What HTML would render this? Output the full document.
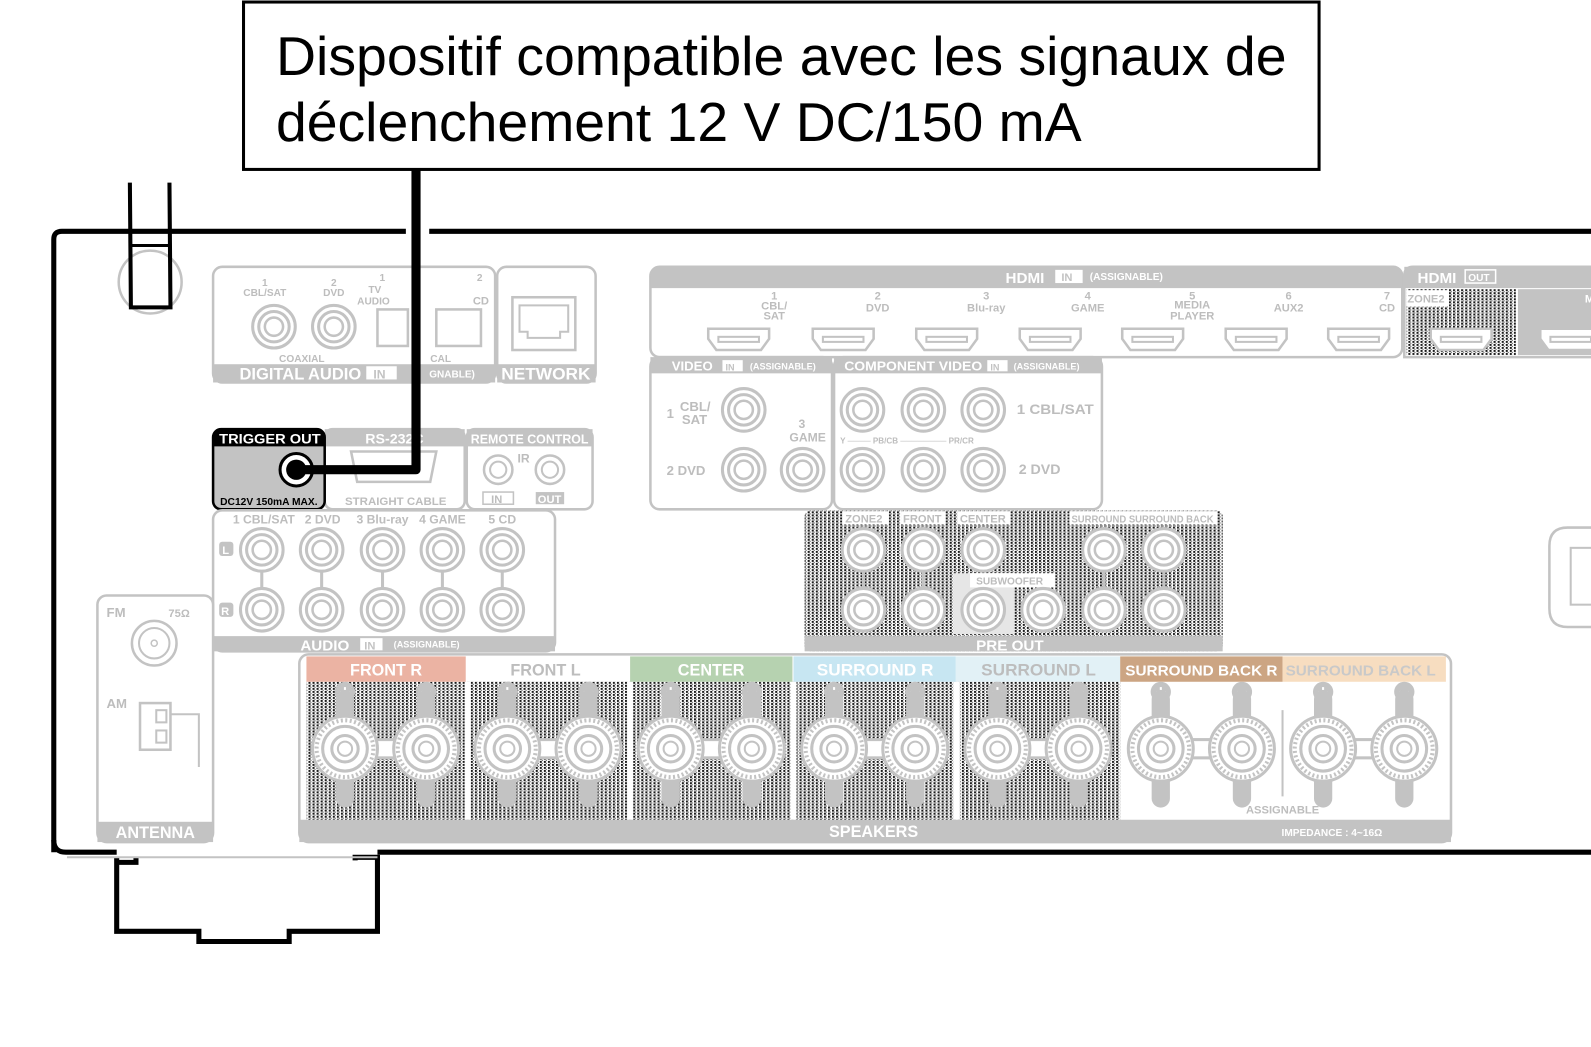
<!DOCTYPE html>
<html><head><meta charset="utf-8"><style>
html,body{margin:0;padding:0;background:#fff;overflow:hidden;}
svg{display:block;font-family:"Liberation Sans",sans-serif;}
.g{fill:#bdbdbd;font-weight:bold;}
.w{fill:#fff;font-weight:bold;}
</style></head><body>
<svg width="1591" height="1047" viewBox="0 0 1568 1032" preserveAspectRatio="none" xmlns="http://www.w3.org/2000/svg">
<defs>
<pattern id="dz" width="4" height="3" patternUnits="userSpaceOnUse">
<rect width="4" height="3" fill="#fff"/><rect x="0" y="0" width="2" height="2" fill="#1a1a1a"/><rect x="2" y="2" width="1" height="1" fill="#555"/>
</pattern>
<g id="rca"><circle r="21" fill="#fff" stroke="#c3c3c3" stroke-width="3"/><circle r="15" fill="none" stroke="#c3c3c3" stroke-width="3"/><circle r="9" fill="none" stroke="#c3c3c3" stroke-width="2.5"/></g>
<g id="hdmi"><path d="M-30,-11 h60 v10 l-8,11 h-44 l-8,-11z" fill="#fff" stroke="#c3c3c3" stroke-width="2.5"/><rect x="-20" y="-3" width="40" height="5" fill="none" stroke="#c3c3c3" stroke-width="2"/></g>
<g id="spk"><rect x="-9" y="-58" width="18" height="116" rx="9" fill="#c3c3c3"/>
<circle r="32" fill="#fff" stroke="#c3c3c3" stroke-width="3"/><circle r="28" fill="none" stroke="#c3c3c3" stroke-width="4" stroke-dasharray="2 2.4"/><circle r="22" fill="none" stroke="#c3c3c3" stroke-width="3"/><circle r="13" fill="none" stroke="#c3c3c3" stroke-width="3"/><circle r="7" fill="none" stroke="#c3c3c3" stroke-width="2"/></g>
<g id="pair"><rect x="28" y="-9" width="24" height="18" fill="#fff" stroke="#c3c3c3" stroke-width="3"/>
<circle cx="0" cy="-56" r="10" fill="#c3c3c3"/><circle cx="80" cy="-56" r="10" fill="#c3c3c3"/>
<text x="0" y="-50" font-size="18" fill="#fff" text-anchor="middle" font-weight="bold">+</text><text x="80" y="-50" font-size="18" fill="#fff" text-anchor="middle" font-weight="bold">−</text>
<use href="#spk" x="0"/><use href="#spk" x="80"/></g>
</defs>

<rect x="240" y="2" width="1060" height="165" fill="#fff" stroke="#000" stroke-width="3"/>
<text x="272" y="74" font-size="54" textLength="996" lengthAdjust="spacingAndGlyphs">Dispositif compatible avec les signaux de</text>
<text x="272" y="139" font-size="54" textLength="794" lengthAdjust="spacingAndGlyphs">déclenchement 12 V DC/150 mA</text>

<path d="M53,840 V236 q0,-8 8,-8 H400 M423,228 H1591" fill="none" stroke="#000" stroke-width="5"/>
<path d="M53,828 q0,12 12,12 H115 M372,840 H1591" fill="none" stroke="#000" stroke-width="5"/>
<path d="M115,845 V918 H196 V928 H285 V918 H372 V845 H350 V848" fill="none" stroke="#000" stroke-width="5"/>
<path d="M115,850 H134 V845" fill="none" stroke="#000" stroke-width="5"/>
<line x1="66" y1="845" x2="372" y2="845" stroke="#c3c3c3" stroke-width="2"/>
<circle cx="148" cy="278" r="31" fill="none" stroke="#c3c3c3" stroke-width="2.5"/>
<path d="M128,180 L129,303 H168 L167,180" fill="none" stroke="#000" stroke-width="4"/>
<line x1="129" y1="242" x2="168" y2="242" stroke="#000" stroke-width="3"/>

<rect x="210" y="263" width="278" height="114" rx="9" fill="#fff" stroke="#c3c3c3" stroke-width="2.5"/>
<rect x="210" y="359" width="278" height="18" fill="#c3c3c3"/>
<text x="236" y="374" font-size="16" class="w" textLength="120" lengthAdjust="spacingAndGlyphs">DIGITAL AUDIO</text>
<rect x="361" y="361" width="30" height="13" fill="#fff"/><text x="368" y="373" font-size="12" fill="#c3c3c3" font-weight="bold">IN</text>
<text x="423" y="372" font-size="10" class="w" textLength="45" lengthAdjust="spacingAndGlyphs">GNABLE)</text>
<text x="261" y="282" font-size="10" class="g" text-anchor="middle">1</text><text x="261" y="292" font-size="10" class="g" text-anchor="middle">CBL/SAT</text>
<text x="329" y="282" font-size="10" class="g" text-anchor="middle">2</text><text x="329" y="292" font-size="10" class="g" text-anchor="middle">DVD</text>
<text x="374" y="277" font-size="10" class="g">1</text><text x="363" y="289" font-size="10" class="g">TV</text><text x="352" y="300" font-size="10" class="g">AUDIO</text>
<text x="470" y="277" font-size="10" class="g">2</text><text x="466" y="300" font-size="11" class="g">CD</text>
<text x="275" y="357" font-size="10" class="g">COAXIAL</text><text x="424" y="357" font-size="10" class="g">CAL</text>
<use href="#rca" x="270" y="322"/><use href="#rca" x="329" y="322"/>
<rect x="372" y="305" width="30" height="36" fill="#fff" stroke="#c3c3c3" stroke-width="2.5"/>
<rect x="430" y="305" width="44" height="36" fill="#fff" stroke="#c3c3c3" stroke-width="2.5"/>
<rect x="490" y="263" width="97" height="114" rx="9" fill="#fff" stroke="#c3c3c3" stroke-width="2.5"/>
<rect x="490" y="359" width="97" height="18" fill="#c3c3c3"/>
<text x="494" y="374" font-size="16" class="w" textLength="88" lengthAdjust="spacingAndGlyphs">NETWORK</text>
<rect x="505" y="293" width="62" height="52" fill="#fff" stroke="#c3c3c3" stroke-width="2.5"/>
<path d="M512,301 h48 v26 h-8 v6 h-32 v-6 h-8z" fill="none" stroke="#c3c3c3" stroke-width="2"/>

<rect x="320" y="423" width="138" height="79" rx="8" fill="#fff" stroke="#c3c3c3" stroke-width="2.5"/>
<rect x="320" y="423" width="138" height="17" fill="#c3c3c3"/>
<text x="360" y="437" font-size="14" class="w">RS-232C</text>
<path d="M346,445 h84 l-6,30 h-72z" fill="none" stroke="#c3c3c3" stroke-width="2.5"/>
<text x="340" y="498" font-size="11" class="g" textLength="100" lengthAdjust="spacingAndGlyphs">STRAIGHT CABLE</text>
<rect x="460" y="423" width="124" height="79" rx="8" fill="#fff" stroke="#c3c3c3" stroke-width="2.5"/>
<rect x="460" y="423" width="124" height="17" fill="#c3c3c3"/>
<text x="464" y="437" font-size="13" class="w" textLength="116" lengthAdjust="spacingAndGlyphs">REMOTE CONTROL</text>
<circle cx="491" cy="463" r="14" fill="none" stroke="#c3c3c3" stroke-width="2.5"/><circle cx="491" cy="463" r="8" fill="none" stroke="#c3c3c3" stroke-width="2"/>
<circle cx="542" cy="463" r="14" fill="none" stroke="#c3c3c3" stroke-width="2.5"/><circle cx="542" cy="463" r="8" fill="none" stroke="#c3c3c3" stroke-width="2"/>
<text x="510" y="456" font-size="12" class="g">IR</text>
<rect x="476" y="485" width="30" height="12" fill="none" stroke="#c3c3c3" stroke-width="1.5"/><text x="484" y="496" font-size="11" class="g">IN</text>
<rect x="528" y="485" width="28" height="12" fill="#c3c3c3"/><text x="530" y="496" font-size="11" class="w">OUT</text>

<rect x="210" y="423" width="110" height="79" rx="8" fill="#c3c3c3" stroke="#000" stroke-width="2.5"/>
<path d="M210,440 v-9 q0,-8 8,-8 h94 q8,0 8,8 v9z" fill="#000"/>
<text x="216" y="437" font-size="14" class="w" textLength="100" lengthAdjust="spacingAndGlyphs">TRIGGER OUT</text>
<text x="217" y="498" font-size="10" font-weight="bold" fill="#000" textLength="96" lengthAdjust="spacingAndGlyphs">DC12V 150mA MAX.</text>
<circle cx="292" cy="463" r="16" fill="#fff" stroke="#000" stroke-width="3"/><circle cx="292" cy="463" r="10" fill="#000"/>
<path d="M410,168 V463 H292" fill="none" stroke="#000" stroke-width="9" stroke-linejoin="round"/>

<rect x="210" y="503" width="337" height="139" rx="9" fill="#fff" stroke="#c3c3c3" stroke-width="2.5"/>
<rect x="210" y="627" width="337" height="15" fill="#c3c3c3"/>
<text x="296" y="641" font-size="15" class="w">AUDIO</text>
<rect x="355" y="629" width="22" height="12" fill="#fff"/><text x="359" y="640" font-size="11" fill="#c3c3c3" font-weight="bold">IN</text>
<text x="388" y="638" font-size="9" class="w">(ASSIGNABLE)</text>
<g font-size="12" class="g" text-anchor="middle"><text x="260" y="516">1 CBL/SAT</text><text x="318" y="516">2 DVD</text><text x="377" y="516">3 Blu-ray</text><text x="436" y="516">4 GAME</text><text x="495" y="516">5 CD</text></g>
<rect x="216" y="534" width="14" height="14" rx="3" fill="#c3c3c3"/><text x="219" y="546" font-size="11" class="w">L</text>
<rect x="216" y="594" width="14" height="14" rx="3" fill="#c3c3c3"/><text x="218" y="606" font-size="11" class="w">R</text>
<g stroke="#c3c3c3" stroke-width="3"><line x1="258" y1="560" x2="258" y2="580"/><line x1="317" y1="560" x2="317" y2="580"/><line x1="377" y1="560" x2="377" y2="580"/><line x1="436" y1="560" x2="436" y2="580"/><line x1="495" y1="560" x2="495" y2="580"/></g>
<use href="#rca" x="258" y="542"/><use href="#rca" x="317" y="542"/><use href="#rca" x="377" y="542"/><use href="#rca" x="436" y="542"/><use href="#rca" x="495" y="542"/>
<use href="#rca" x="258" y="601"/><use href="#rca" x="317" y="601"/><use href="#rca" x="377" y="601"/><use href="#rca" x="436" y="601"/><use href="#rca" x="495" y="601"/>

<rect x="96" y="587" width="114" height="243" rx="9" fill="#fff" stroke="#c3c3c3" stroke-width="2.5"/>
<rect x="96" y="810" width="114" height="20" fill="#c3c3c3"/>
<text x="114" y="826" font-size="16" class="w">ANTENNA</text>
<text x="105" y="608" font-size="13" class="g">FM</text><text x="166" y="608" font-size="11" class="g">75Ω</text>
<circle cx="152" cy="634" r="22" fill="none" stroke="#c3c3c3" stroke-width="2.5"/><circle cx="152" cy="634" r="15" fill="none" stroke="#c3c3c3" stroke-width="2"/><circle cx="152" cy="634" r="3" fill="none" stroke="#c3c3c3" stroke-width="1.5"/>
<text x="105" y="698" font-size="13" class="g">AM</text>
<rect x="138" y="693" width="30" height="46" fill="none" stroke="#c3c3c3" stroke-width="2.5"/>
<rect x="154" y="700" width="10" height="12" fill="none" stroke="#c3c3c3" stroke-width="2"/><rect x="154" y="720" width="10" height="12" fill="none" stroke="#c3c3c3" stroke-width="2"/>
<path d="M168,704 h28 v52" fill="none" stroke="#c3c3c3" stroke-width="2"/>

<rect x="641" y="263" width="741" height="89" rx="9" fill="#fff" stroke="#c3c3c3" stroke-width="2.5"/>
<path d="M641,284 v-12 q0,-9 9,-9 h723 q9,0 9,9 v12z" fill="#c3c3c3"/>
<text x="991" y="279" font-size="15" class="w">HDMI</text>
<rect x="1040" y="266" width="27" height="13" fill="#fff"/><text x="1046" y="277" font-size="11" fill="#c3c3c3" font-weight="bold">IN</text>
<text x="1074" y="276" font-size="10" class="w">(ASSIGNABLE)</text>
<g font-size="11" class="g" text-anchor="middle" fill="#bdbdbd" font-weight="bold">
<text x="763" y="295">1</text><text x="763" y="305">CBL/</text><text x="763" y="315">SAT</text>
<text x="865" y="295">2</text><text x="865" y="307">DVD</text>
<text x="972" y="295">3</text><text x="972" y="307">Blu-ray</text>
<text x="1072" y="295">4</text><text x="1072" y="307">GAME</text>
<text x="1175" y="295">5</text><text x="1175" y="304">MEDIA</text><text x="1175" y="315">PLAYER</text>
<text x="1270" y="295">6</text><text x="1270" y="307">AUX2</text>
<text x="1367" y="295">7</text><text x="1367" y="307">CD</text>
</g>
<use href="#hdmi" x="728" y="335"/><use href="#hdmi" x="831" y="335"/><use href="#hdmi" x="933" y="335"/><use href="#hdmi" x="1035" y="335"/><use href="#hdmi" x="1136" y="335"/><use href="#hdmi" x="1238" y="335"/><use href="#hdmi" x="1339" y="335"/>
<path d="M1384,352 V272 q0,-9 9,-9 H1591 V352z" fill="#fff" stroke="#c3c3c3" stroke-width="2.5"/>
<rect x="1384" y="263" width="207" height="21" fill="#c3c3c3"/>
<text x="1397" y="279" font-size="15" class="w">HDMI</text>
<rect x="1444" y="266" width="30" height="13" fill="none" stroke="#fff" stroke-width="1.5"/><text x="1447" y="277" font-size="10" class="w">OUT</text>
<rect x="1386" y="285" width="108" height="65" fill="url(#dz)"/>
<rect x="1386" y="286" width="42" height="16" fill="#fff"/><text x="1387" y="298" font-size="11" class="g">ZONE2</text>
<rect x="1496" y="285" width="95" height="65" fill="#c3c3c3"/>
<text x="1562" y="298" font-size="11" class="w">M</text>
<use href="#hdmi" x="1440" y="335"/><use href="#hdmi" x="1548" y="335"/>

<rect x="641" y="352" width="179" height="150" rx="9" fill="#fff" stroke="#c3c3c3" stroke-width="2.5"/>
<rect x="641" y="352" width="179" height="16" fill="#c3c3c3"/>
<text x="662" y="365" font-size="13" class="w">VIDEO</text>
<rect x="712" y="355" width="20" height="11" fill="#fff"/><text x="715" y="365" font-size="9" fill="#c3c3c3" font-weight="bold">IN</text>
<text x="739" y="364" font-size="9" class="w">(ASSIGNABLE)</text>
<text x="657" y="412" font-size="13" class="g">1</text><text x="670" y="405" font-size="13" class="g">CBL/</text><text x="672" y="418" font-size="13" class="g">SAT</text>
<text x="657" y="468" font-size="13" class="g">2  DVD</text>
<text x="787" y="422" font-size="12" class="g">3</text><text x="778" y="435" font-size="12" class="g">GAME</text>
<use href="#rca" x="733" y="404"/><use href="#rca" x="733" y="463"/><use href="#rca" x="791" y="463"/>
<rect x="822" y="352" width="264" height="150" rx="9" fill="#fff" stroke="#c3c3c3" stroke-width="2.5"/>
<rect x="822" y="352" width="264" height="16" fill="#c3c3c3"/>
<text x="832" y="365" font-size="13" class="w" textLength="136" lengthAdjust="spacingAndGlyphs">COMPONENT VIDEO</text>
<rect x="973" y="355" width="20" height="11" fill="#fff"/><text x="976" y="365" font-size="9" fill="#c3c3c3" font-weight="bold">IN</text>
<text x="999" y="364" font-size="9" class="w">(ASSIGNABLE)</text>
<use href="#rca" x="850" y="404"/><use href="#rca" x="910" y="404"/><use href="#rca" x="969" y="404"/>
<use href="#rca" x="850" y="463"/><use href="#rca" x="910" y="463"/><use href="#rca" x="969" y="463"/>
<text x="1002" y="408" font-size="14" class="g" textLength="76" lengthAdjust="spacingAndGlyphs">1 CBL/SAT</text><text x="1004" y="467" font-size="14" class="g">2 DVD</text>
<text x="828" y="437" font-size="8" class="g">Y ──── PB/CB ──────── PR/CR</text>

<rect x="793" y="503" width="412" height="139" rx="6" fill="url(#dz)"/>
<rect x="793" y="627" width="412" height="15" fill="#c3c3c3"/>
<text x="962" y="641" font-size="15" class="w">PRE OUT</text>
<rect x="940" y="565" width="60" height="60" fill="#e6e6e6"/>
<g font-size="11" font-weight="bold" fill="#bdbdbd">
<rect x="830" y="504" width="46" height="13" fill="#fff"/><text x="833" y="515">ZONE2</text>
<rect x="888" y="504" width="44" height="13" fill="#fff"/><text x="890" y="515">FRONT</text>
<rect x="944" y="504" width="52" height="13" fill="#fff"/><text x="946" y="515">CENTER</text>
<rect x="1054" y="504" width="146" height="13" fill="#fff"/><text x="1056" y="515" font-size="10" textLength="140" lengthAdjust="spacingAndGlyphs">SURROUND SURROUND BACK</text>
<rect x="956" y="565" width="84" height="14" fill="#fff"/><text x="962" y="576" font-size="10">SUBWOOFER</text>
</g>
<g stroke="#c3c3c3" stroke-width="3"><line x1="851" y1="560" x2="851" y2="580"/><line x1="910" y1="560" x2="910" y2="580"/><line x1="1088" y1="560" x2="1088" y2="580"/><line x1="1147" y1="560" x2="1147" y2="580"/></g>
<use href="#rca" x="851" y="542"/><use href="#rca" x="910" y="542"/><use href="#rca" x="969" y="542"/><use href="#rca" x="1088" y="542"/><use href="#rca" x="1147" y="542"/>
<use href="#rca" x="851" y="601"/><use href="#rca" x="910" y="601"/><use href="#rca" x="969" y="601"/><use href="#rca" x="1028" y="601"/><use href="#rca" x="1088" y="601"/><use href="#rca" x="1147" y="601"/>

<path d="M1591,520 H1545 q-18,0 -18,18 V600 q0,18 18,18 H1591" fill="#fff" stroke="#c3c3c3" stroke-width="2.5"/>
<rect x="1548" y="540" width="43" height="56" fill="none" stroke="#c3c3c3" stroke-width="2"/>

<rect x="295" y="645" width="1135" height="185" rx="9" fill="#fff" stroke="#c3c3c3" stroke-width="2.5"/>
<rect x="302" y="672" width="802" height="136" fill="url(#dz)"/>
<g fill="#fff"><rect x="458" y="672" width="6" height="136"/><rect x="618" y="672" width="6" height="136"/><rect x="779" y="672" width="6" height="136"/><rect x="940" y="672" width="6" height="136"/></g>
<rect x="295" y="808" width="1135" height="22" fill="#c3c3c3"/>
<text x="817" y="825" font-size="16" class="w">SPEAKERS</text>
<text x="1263" y="824" font-size="10" class="w">IMPEDANCE : 4~16Ω</text>
<rect x="302" y="647" width="157" height="25" fill="#ebb3a3"/>
<rect x="621" y="647" width="160" height="25" fill="#b6d2b0"/>
<rect x="782" y="647" width="160" height="25" fill="#c7e6f2"/>
<rect x="942" y="647" width="162" height="25" fill="#e2f1f6"/>
<rect x="1104" y="647" width="160" height="25" fill="#cca583"/>
<rect x="1264" y="647" width="161" height="25" fill="#f7ddc0"/>
<g font-size="16" font-weight="bold">
<text x="345" y="666" fill="#fff">FRONT R</text>
<text x="503" y="666" fill="#bdbdbd">FRONT L</text>
<text x="668" y="666" fill="#fff">CENTER</text>
<text x="805" y="666" fill="#fff" textLength="115" lengthAdjust="spacingAndGlyphs">SURROUND R</text>
<text x="967" y="666" fill="#bdbdbd" textLength="113" lengthAdjust="spacingAndGlyphs">SURROUND L</text>
<text x="1109" y="666" fill="#fff" font-size="15" textLength="150" lengthAdjust="spacingAndGlyphs">SURROUND BACK R</text>
<text x="1267" y="666" fill="#c9c9c9" font-size="15" textLength="148" lengthAdjust="spacingAndGlyphs">SURROUND BACK L</text>
</g>
<use href="#pair" x="340" y="738"/><use href="#pair" x="500" y="738"/><use href="#pair" x="661" y="738"/><use href="#pair" x="822" y="738"/><use href="#pair" x="983" y="738"/><use href="#pair" x="1144" y="738"/><use href="#pair" x="1304" y="738"/>
<line x1="1264" y1="700" x2="1264" y2="785" stroke="#c3c3c3" stroke-width="2"/>
<text x="1228" y="802" font-size="11" class="g">ASSIGNABLE</text>
</svg>
</body></html>
